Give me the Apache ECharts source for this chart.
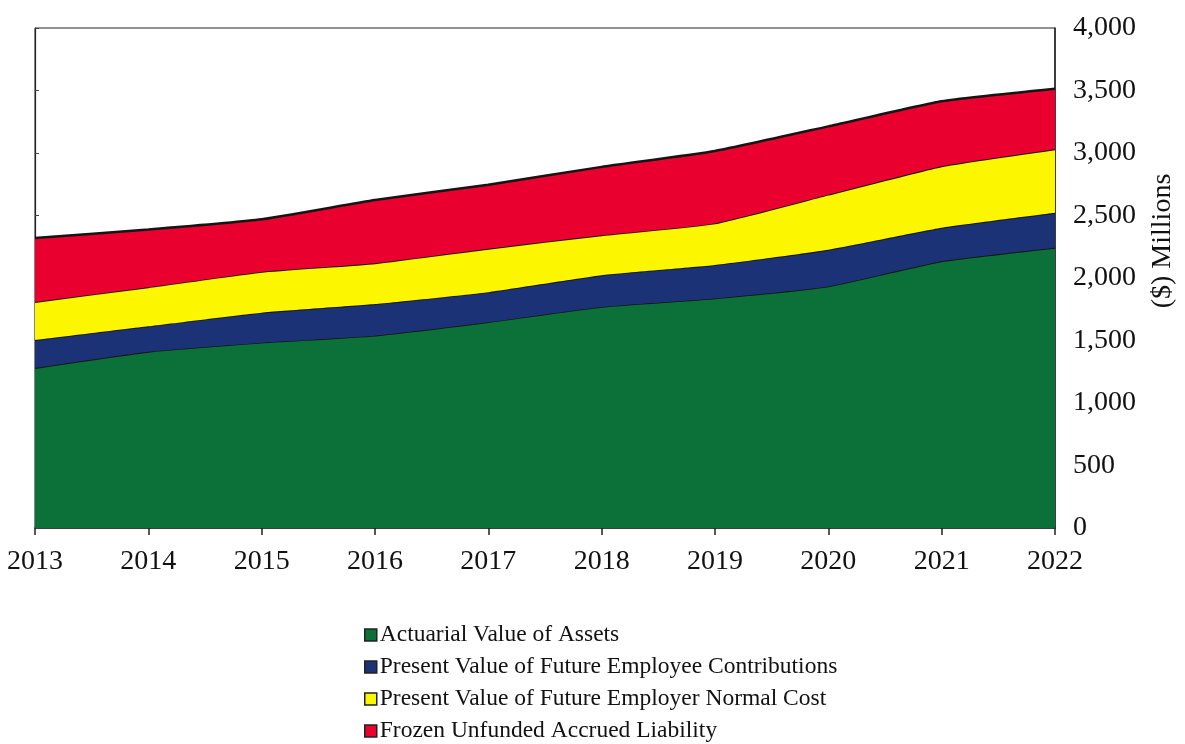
<!DOCTYPE html>
<html>
<head>
<meta charset="utf-8">
<script src="https://cdn.jsdelivr.net/npm/echarts@6/dist/echarts.min.js"></script>
<style>
  html, body { margin: 0; padding: 0; background: #fff; }
  #chart { width: 1185px; height: 744px; }
</style>
</head>
<body>
<div id="chart"></div>
<script>
// Valuation years
const years = ['2013', '2014', '2015', '2016', '2017', '2018', '2019', '2020', '2021', '2022'];

// Stacked components, $ millions
const actuarialAssets      = [1280, 1410, 1483, 1539, 1647, 1769, 1837, 1933, 2134, 2242];
const employeeContribPV    = [ 224,  204,  240,  253,  240,  253,  267,  293,  268,  280];
const employerNormalCostPV = [ 304,  312,  326,  326,  347,  320,  333,  440,  492,  508];
const frozenUAL            = [ 512,  462,  421,  506,  512,  547,  579,  547,  520,  484];

// Right-hand value axis ticks
const yTicks = [0, 500, 1000, 1500, 2000, 2500, 3000, 3500, 4000];

const seriesNames = [
  'Actuarial Value of Assets',
  'Present Value of Future Employee Contributions',
  'Present Value of Future Employer Normal Cost',
  'Frozen Unfunded Accrued Liability'
];
const seriesData = [actuarialAssets, employeeContribPV, employerNormalCostPV, frozenUAL];
const seriesColors = ['#0c7139', '#1c3276', '#fcf600', '#e9002f'];

const serif = '"Liberation Serif", "DejaVu Serif", serif';

const chart = echarts.init(document.getElementById('chart'), null, { renderer: 'canvas' });

chart.setOption({
  backgroundColor: '#ffffff',
  animation: false,
  grid: {
    left: 35, right: 130, top: 28, bottom: 216,
    show: true, borderColor: '#222', borderWidth: 1, backgroundColor: 'transparent'
  },
  legend: {
    orient: 'vertical',
    left: 364, top: 623, height: 140,
    padding: 0,
    itemWidth: 12, itemHeight: 12, itemGap: 8,
    icon: 'rect',
    data: seriesNames.map((n, i) => ({
      name: n,
      itemStyle: { color: seriesColors[i], borderColor: '#222', borderWidth: 1.5 }
    })),
    textStyle: { fontFamily: serif, fontSize: 23.5, color: '#111', padding: [0, 0, 0, -2] }
  },
  xAxis: {
    type: 'category',
    data: years,
    boundaryGap: false,
    axisLine: { show: true, lineStyle: { color: '#222', width: 1.5 } },
    axisTick: { show: true, inside: false, length: 7, lineStyle: { color: '#222', width: 1.5 } },
    axisLabel: { fontFamily: serif, fontSize: 28, color: '#111', margin: 20 },
    splitLine: { show: false }
  },
  yAxis: [
    {
      type: 'value',
      position: 'right',
      min: yTicks[0], max: yTicks[yTicks.length - 1], interval: 500,
      axisLine: { show: true, lineStyle: { color: '#222', width: 1.5 } },
      axisTick: { show: false },
      axisLabel: {
        fontFamily: serif, fontSize: 28, color: '#111', margin: 18,
        formatter: v => v.toLocaleString('en-US')
      },
      splitLine: { show: false }
    },
    {
      type: 'value',
      position: 'left',
      min: yTicks[0], max: yTicks[yTicks.length - 1], interval: 500,
      axisLine: { show: true, lineStyle: { color: '#222', width: 1.2 } },
      axisTick: { show: true, inside: true, length: 4, lineStyle: { color: '#444' } },
      axisLabel: { show: false },
      splitLine: { show: false }
    }
  ],
  graphic: [
    {
      type: 'text',
      x: 1163, y: 241,
      rotation: Math.PI / 2,
      style: {
        text: '($) Millions',
        font: '28px ' + serif,
        fill: '#111',
        align: 'center',
        verticalAlign: 'middle'
      }
    }
  ],
  series: seriesNames.map((n, i) => ({
    name: n,
    type: 'line',
    stack: 'total',
    yAxisIndex: 0,
    data: seriesData[i],
    symbol: 'none',
    smooth: 0.15,
    z: 2 + i,
    lineStyle: { color: '#151515', width: i === 3 ? 2.5 : 1.8 },
    itemStyle: { color: seriesColors[i] },
    areaStyle: { color: seriesColors[i], opacity: 1 }
  }))
});
</script>
</body>
</html>
